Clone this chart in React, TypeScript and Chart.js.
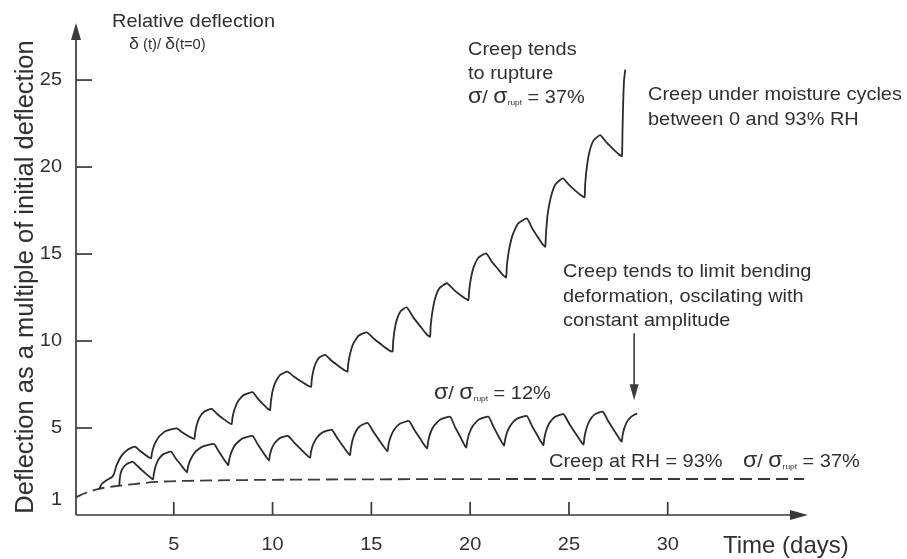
import React, { useEffect, useRef } from "react";
import { Chart, registerables } from "chart.js";

Chart.register(...registerables);

const FONT = '"Liberation Sans", Arial, Helvetica, sans-serif';
const INK = "#303030";
const AXIS = "#3a3a3a";
const SX = 1.05;

// axis ticks and labels
const xTickValues = [5, 10, 15, 20, 25, 30];
const xTickLabels = ["5", "10", "15", "20", "25", "30"];
const yTickValues = [5, 10, 15, 20, 25];
const yLabelValues = [1, 5, 10, 15, 20, 25];
const yLabelTexts = ["1", "5", "10", "15", "20", "25"];
const X_MAX = 37.1;
const Y_MAX = 28.28;

// σ/σrupt = 37 %, moisture cycles 0–93 % RH (creep tends to rupture)
const cycling37: [number, number][] = [
  [1.22, 1.49], [1.35, 1.78], [1.6, 2.0], [1.86, 2.17], [1.97, 2.35], [2.1, 2.85], [2.35, 3.4], [2.7, 3.78],
  [3.04, 3.93], [3.28, 3.69], [3.53, 3.48], [3.73, 3.32], [3.85, 3.26],
  [3.9, 3.6], [4.03, 4.07], [4.25, 4.5], [4.59, 4.83], [5.15, 4.98],
  [5.42, 4.76], [5.68, 4.57], [5.91, 4.43], [6.04, 4.37],
  [6.08, 4.72], [6.16, 5.18], [6.31, 5.62], [6.54, 5.94], [6.92, 6.1],
  [7.22, 5.78], [7.53, 5.51], [7.78, 5.3], [7.93, 5.22],
  [7.97, 5.59], [8.08, 6.09], [8.26, 6.55], [8.53, 6.89], [8.99, 7.06],
  [9.25, 6.69], [9.52, 6.37], [9.74, 6.12], [9.87, 6.03],
  [9.91, 6.47], [9.99, 7.07], [10.14, 7.62], [10.37, 8.04], [10.75, 8.24],
  [11.11, 7.93], [11.47, 7.66], [11.77, 7.45], [11.95, 7.37],
  [11.98, 7.74], [12.05, 8.23], [12.17, 8.69], [12.35, 9.04], [12.66, 9.2],
  [13.0, 8.85], [13.34, 8.56], [13.62, 8.33], [13.79, 8.24],
  [13.83, 8.69], [13.93, 9.3], [14.09, 9.87], [14.35, 10.3], [14.77, 10.5],
  [15.16, 10.1], [15.55, 9.76], [15.87, 9.49], [16.07, 9.39],
  [16.1, 9.9], [16.17, 10.59], [16.29, 11.23], [16.48, 11.71], [16.79, 11.94],
  [17.14, 11.33], [17.5, 10.81], [17.79, 10.4], [17.97, 10.25],
  [18.0, 10.86], [18.09, 11.69], [18.23, 12.46], [18.45, 13.04], [18.82, 13.32],
  [19.15, 12.97], [19.47, 12.67], [19.75, 12.44], [19.91, 12.35],
  [19.95, 12.89], [20.04, 13.61], [20.19, 14.29], [20.42, 14.8], [20.81, 15.04],
  [21.11, 14.54], [21.42, 14.12], [21.67, 13.78], [21.82, 13.66],
  [21.86, 14.34], [21.97, 15.25], [22.15, 16.1], [22.42, 16.75], [22.87, 17.05],
  [23.15, 16.46], [23.43, 15.96], [23.66, 15.57], [23.8, 15.42],
  [23.84, 16.21], [23.92, 17.27], [24.08, 18.25], [24.31, 19.0], [24.69, 19.35],
  [25.02, 18.96], [25.35, 18.62], [25.63, 18.36], [25.79, 18.26],
  [25.82, 18.98], [25.9, 19.94], [26.03, 20.84], [26.24, 21.52], [26.58, 21.84],
  [26.91, 21.4], [27.24, 21.03], [27.52, 20.74], [27.68, 20.63],
  [27.71, 22.0], [27.74, 23.5], [27.79, 25.0], [27.85, 25.6],
];

// σ/σrupt = 12 %, moisture cycles (oscillating with constant amplitude)
const cycling12: [number, number][] = [
  [2.24, 1.67], [2.26, 2.0], [2.3, 2.35], [2.4, 2.66], [2.62, 2.93], [2.93, 3.06],
  [3.24, 2.73], [3.54, 2.42], [3.8, 2.17], [3.95, 2.05],
  [3.99, 2.37], [4.08, 2.8], [4.23, 3.2], [4.47, 3.5], [4.86, 3.64],
  [5.1, 3.25], [5.35, 2.9], [5.55, 2.6], [5.67, 2.46],
  [5.72, 2.78], [5.86, 3.22], [6.09, 3.63], [6.45, 3.93], [7.04, 4.08],
  [7.26, 3.68], [7.47, 3.32], [7.65, 3.02], [7.76, 2.87],
  [7.81, 3.2], [7.93, 3.66], [8.14, 4.07], [8.46, 4.39], [8.99, 4.54],
  [9.24, 4.08], [9.49, 3.65], [9.7, 3.3], [9.82, 3.13],
  [9.86, 3.41], [9.95, 3.8], [10.12, 4.15], [10.37, 4.42], [10.78, 4.55],
  [11.12, 4.13], [11.45, 3.76], [11.73, 3.44], [11.9, 3.29],
  [11.94, 3.61], [12.05, 4.04], [12.24, 4.44], [12.53, 4.75], [13.0, 4.89],
  [13.28, 4.41], [13.55, 3.98], [13.78, 3.61], [13.92, 3.44],
  [13.96, 3.81], [14.05, 4.31], [14.2, 4.77], [14.43, 5.12], [14.82, 5.29],
  [15.12, 4.75], [15.42, 4.26], [15.67, 3.86], [15.82, 3.66],
  [15.86, 4.01], [15.97, 4.48], [16.16, 4.91], [16.44, 5.24], [16.91, 5.4],
  [17.18, 4.88], [17.46, 4.41], [17.68, 4.02], [17.82, 3.83],
  [17.87, 4.19], [17.98, 4.69], [18.18, 5.14], [18.49, 5.49], [18.99, 5.65],
  [19.23, 5.07], [19.48, 4.54], [19.68, 4.09], [19.8, 3.88],
  [19.85, 4.23], [19.96, 4.71], [20.15, 5.15], [20.44, 5.49], [20.93, 5.65],
  [21.17, 5.1], [21.4, 4.6], [21.6, 4.19], [21.72, 3.99],
  [21.77, 4.33], [21.88, 4.79], [22.08, 5.21], [22.38, 5.54], [22.87, 5.69],
  [23.12, 5.14], [23.37, 4.64], [23.58, 4.22], [23.71, 4.02],
  [23.75, 4.38], [23.85, 4.86], [24.02, 5.3], [24.29, 5.64], [24.72, 5.8],
  [25.03, 5.22], [25.33, 4.7], [25.59, 4.26], [25.74, 4.05],
  [25.78, 4.43], [25.88, 4.94], [26.04, 5.41], [26.29, 5.77], [26.71, 5.94],
  [27.0, 5.37], [27.29, 4.85], [27.53, 4.42], [27.67, 4.21],
  [27.71, 4.55], [27.8, 4.98], [27.95, 5.38], [28.15, 5.65], [28.45, 5.84],
];

// creep at constant RH = 93 %, σ/σrupt = 37 %
const constantRH93: [number, number][] = [
  [0.05, 1.02], [0.5, 1.25], [1.2, 1.5], [2.2, 1.68], [3.0, 1.78], [4.1, 1.9],
  [6.0, 1.97], [8.7, 2.01], [15.0, 2.05], [25.0, 2.07], [36.9, 2.07],
];

// annotation arrow (day, deflection from → to)
const arrowDay = 28.3;
const arrowFrom = 10.45;
const arrowTo = 6.6;

type Run = { t: string; size: number; dy?: number };

function drawRuns(ctx: CanvasRenderingContext2D, runs: Run[], x: number, y: number, sx = SX) {
  let cx = x;
  for (const r of runs) {
    ctx.font = `${r.size}px ${FONT}`;
    ctx.save();
    ctx.translate(cx, y + (r.dy || 0));
    ctx.scale(sx, 1);
    ctx.textAlign = "left";
    ctx.textBaseline = "alphabetic";
    ctx.fillText(r.t, 0, 0);
    ctx.restore();
    cx += ctx.measureText(r.t).width * sx;
  }
}

function text(ctx: CanvasRenderingContext2D, s: string, x: number, y: number, size = 19, align: CanvasTextAlign = "left", baseline: CanvasTextBaseline = "alphabetic", sx = SX) {
  ctx.save();
  ctx.font = `${size}px ${FONT}`;
  ctx.translate(x, y);
  ctx.scale(sx, 1);
  ctx.textAlign = align;
  ctx.textBaseline = baseline;
  ctx.fillText(s, 0, 0);
  ctx.restore();
}

const sigmaRuns = (pct: string): Run[] => [
  { t: "σ", size: 22 },
  { t: "/ ", size: 19 },
  { t: "σ", size: 22 },
  { t: "rupt", size: 8, dy: 2 },
  { t: " = " + pct, size: 19 },
];

const decor = {
  id: "decor",
  afterDatasetsDraw(chart: any) {
    const { ctx } = chart;
    const xs = chart.scales.x;
    const ys = chart.scales.y;
    const x0 = xs.getPixelForValue(0) + 1;
    const y0 = ys.getPixelForValue(0);
    const xEnd = xs.getPixelForValue(X_MAX);
    const yTop = ys.getPixelForValue(Y_MAX);
    ctx.save();
    ctx.strokeStyle = AXIS;
    ctx.fillStyle = AXIS;
    ctx.lineWidth = 1.7;
    // y axis with arrow
    ctx.beginPath();
    ctx.moveTo(x0, y0);
    ctx.lineTo(x0, yTop + 10);
    ctx.stroke();
    ctx.beginPath();
    ctx.moveTo(x0, yTop);
    ctx.lineTo(x0 - 5, yTop + 17);
    ctx.lineTo(x0 + 5, yTop + 17);
    ctx.closePath();
    ctx.fill();
    // x axis with arrow
    ctx.beginPath();
    ctx.moveTo(x0, y0);
    ctx.lineTo(xEnd - 10, y0);
    ctx.stroke();
    ctx.beginPath();
    ctx.moveTo(xEnd, y0);
    ctx.lineTo(xEnd - 18, y0 - 5);
    ctx.lineTo(xEnd - 18, y0 + 5);
    ctx.closePath();
    ctx.fill();
    // ticks
    for (const v of yTickValues) {
      const py = ys.getPixelForValue(v);
      ctx.beginPath();
      ctx.moveTo(x0, py);
      ctx.lineTo(x0 + 16, py);
      ctx.stroke();
    }
    for (const v of xTickValues) {
      const px = xs.getPixelForValue(v);
      ctx.beginPath();
      ctx.moveTo(px, y0);
      ctx.lineTo(px, y0 - 13);
      ctx.stroke();
    }
    // tick labels
    ctx.fillStyle = INK;
    yLabelValues.forEach((v, i) => {
      text(ctx, yLabelTexts[i], x0 - 14, ys.getPixelForValue(v) + (v === 1 ? 2 : 0), 19, "right", "middle");
    });
    xTickValues.forEach((v, i) => {
      text(ctx, xTickLabels[i], xs.getPixelForValue(v), 545, 19, "center", "middle");
    });
    // axis titles
    text(ctx, "Time (days)", 723, 553, 24, "left", "alphabetic", 1.0);
    ctx.save();
    ctx.font = `25.5px ${FONT}`;
    ctx.translate(33, 277);
    ctx.rotate(-Math.PI / 2);
    ctx.textAlign = "center";
    ctx.textBaseline = "alphabetic";
    ctx.fillText("Deflection as a multiple of initial deflection", 0, 0);
    ctx.restore();
    text(ctx, "Relative deflection", 112, 27, 19);
    drawRuns(ctx, [
      { t: "δ", size: 17 },
      { t: " (t)/ ", size: 14 },
      { t: "δ", size: 17 },
      { t: "(t=0)", size: 14 },
    ], 129, 49);
    // annotations
    text(ctx, "Creep tends", 468, 55);
    text(ctx, "to rupture", 468, 79);
    drawRuns(ctx, sigmaRuns("37%"), 468, 103);
    text(ctx, "Creep under moisture cycles", 648, 100);
    text(ctx, "between 0 and 93% RH", 648, 125);
    text(ctx, "Creep tends to limit bending", 563, 277);
    text(ctx, "deformation, oscilating with", 563, 302);
    text(ctx, "constant amplitude", 563, 326);
    drawRuns(ctx, sigmaRuns("12%"), 434, 399);
    text(ctx, "Creep at RH = 93%", 549, 467);
    drawRuns(ctx, sigmaRuns("37%"), 743, 467);
    // arrow
    const ax = xs.getPixelForValue(arrowDay);
    const ay1 = ys.getPixelForValue(arrowFrom);
    const ay2 = ys.getPixelForValue(arrowTo);
    ctx.strokeStyle = AXIS;
    ctx.fillStyle = AXIS;
    ctx.lineWidth = 1.6;
    ctx.beginPath();
    ctx.moveTo(ax, ay1);
    ctx.lineTo(ax, ay2 - 10);
    ctx.stroke();
    ctx.beginPath();
    ctx.moveTo(ax, ay2);
    ctx.lineTo(ax - 4.5, ay2 - 16);
    ctx.lineTo(ax + 4.5, ay2 - 16);
    ctx.closePath();
    ctx.fill();
    ctx.restore();
  },
};

export default function App() {
  const ref = useRef<HTMLCanvasElement | null>(null);
  useEffect(() => {
    if (!ref.current) return;
    const toPts = (arr: [number, number][]) => arr.map(([x, y]) => ({ x, y }));
    const chart = new Chart(ref.current, {
      type: "scatter",
      data: {
        datasets: [
          {
            label: "σ/σrupt = 37%, cycling 0–93% RH",
            data: toPts(cycling37),
            showLine: true,
            borderColor: "#2b2b2b",
            borderWidth: 1.8,
            pointRadius: 0,
            tension: 0.15,
            fill: false,
          },
          {
            label: "σ/σrupt = 12%, cycling 0–93% RH",
            data: toPts(cycling12),
            showLine: true,
            borderColor: "#2b2b2b",
            borderWidth: 1.8,
            pointRadius: 0,
            tension: 0.15,
            fill: false,
          },
          {
            label: "Creep at RH = 93%",
            data: toPts(constantRH93),
            showLine: true,
            borderColor: "#3a3a3a",
            borderWidth: 1.8,
            borderDash: [12, 6],
            pointRadius: 0,
            cubicInterpolationMode: "monotone",
            fill: false,
          },
        ],
      },
      options: {
        animation: false,
        responsive: false,
        events: [],
        layout: { padding: { left: 75, right: 99, top: 23, bottom: 44 } },
        plugins: { legend: { display: false }, tooltip: { enabled: false } },
        scales: {
          x: { type: "linear", min: 0, max: X_MAX, display: false },
          y: { type: "linear", min: 0, max: Y_MAX, display: false },
        },
      },
      plugins: [decor],
    });
    return () => chart.destroy();
  }, []);
  return (
    <div style={{ position: "absolute", left: 0, top: 0, width: 907, height: 559, background: "#fff" }}>
      <canvas ref={ref} width={907} height={559} style={{ display: "block" }} />
    </div>
  );
}
